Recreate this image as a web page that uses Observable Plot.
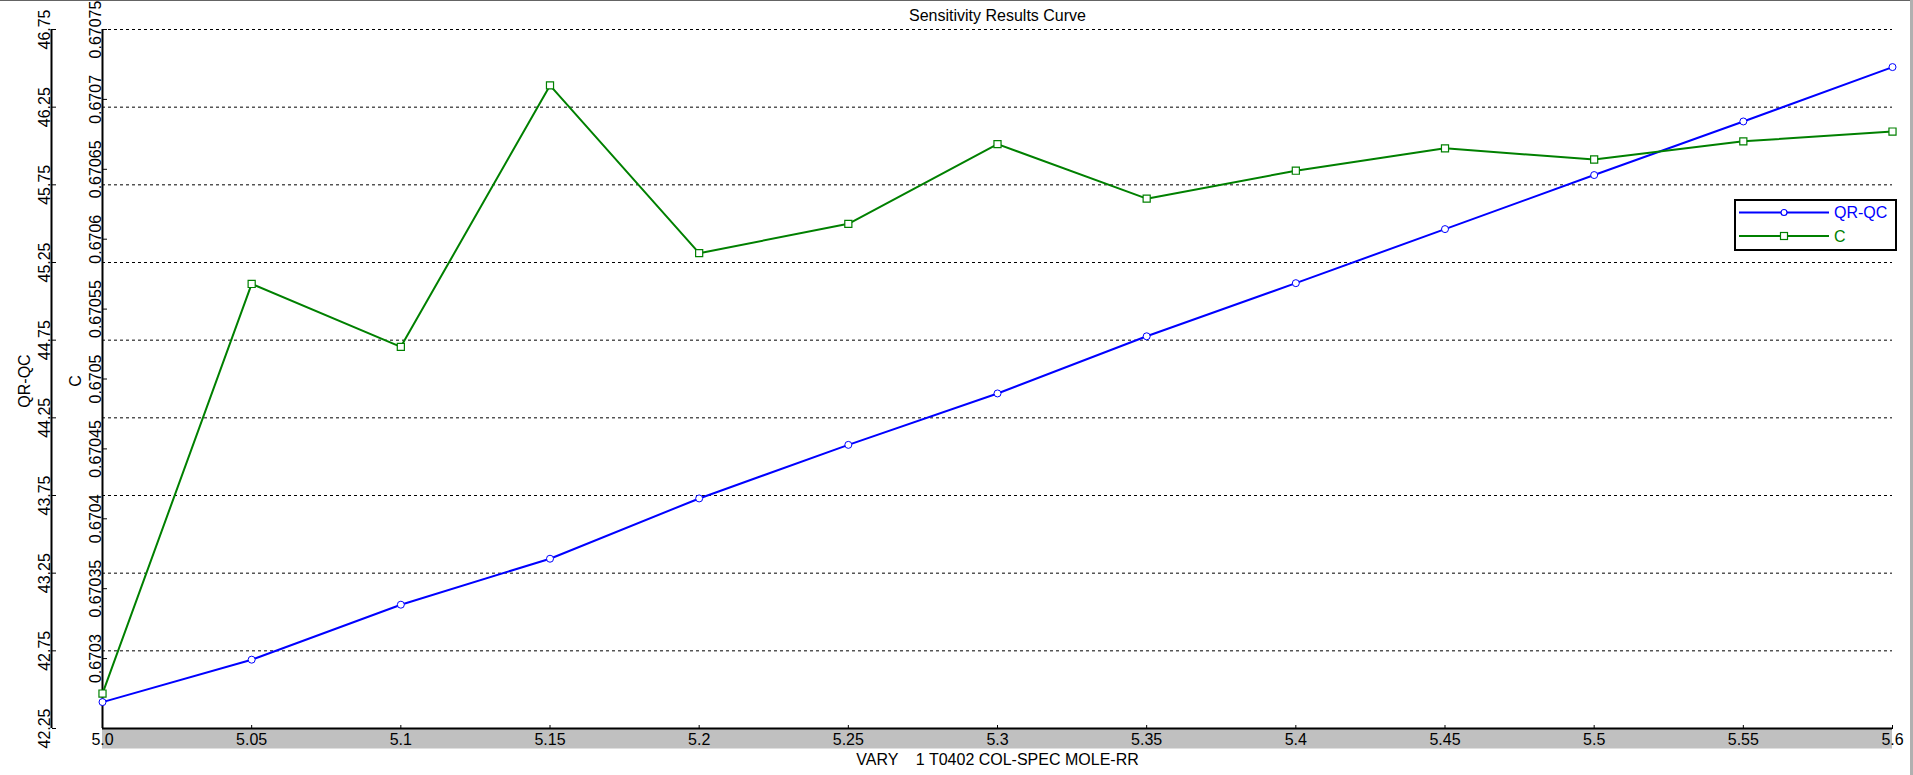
<!DOCTYPE html>
<html>
<head>
<meta charset="utf-8">
<script src="https://cdn.jsdelivr.net/npm/d3@7"></script>
<script src="https://cdn.jsdelivr.net/npm/@observablehq/plot@0.6"></script>
<style>
  html, body { margin: 0; padding: 0; background: white; overflow: hidden; }
  #wrap { position: relative; width: 1913px; height: 775px; }
  #wrap svg text { white-space: pre; }
  .edge { position: absolute; }
  #legend { position: absolute; box-sizing: border-box; left: 1734px; top: 199px; width: 163px; height: 52px;
            border: 2px solid black; background: white; }
</style>
</head>
<body>
<div id="wrap"></div>
<script>
// ---- data ----
const xValues = [5.0, 5.05, 5.1, 5.15, 5.2, 5.25, 5.3, 5.35, 5.4, 5.45, 5.5, 5.55, 5.6];
const qrqcValues = [42.42, 42.693, 43.047, 43.343, 43.731, 44.076, 44.407, 44.775, 45.117, 45.465, 45.813, 46.158, 46.508];
const cValues = [0.670275, 0.670568, 0.670523, 0.670710, 0.670590, 0.670611, 0.670668, 0.670629, 0.670649, 0.670665, 0.670657, 0.670670, 0.670677];
const xTickLabels = ["5.0", "5.05", "5.1", "5.15", "5.2", "5.25", "5.3", "5.35", "5.4", "5.45", "5.5", "5.55", "5.6"];
const qrqcTicks = [42.25, 42.75, 43.25, 43.75, 44.25, 44.75, 45.25, 45.75, 46.25, 46.75];
const qrqcTickLabels = ["42.25", "42.75", "43.25", "43.75", "44.25", "44.75", "45.25", "45.75", "46.25", "46.75"];
const cTicks = [0.6703, 0.67035, 0.6704, 0.67045, 0.6705, 0.67055, 0.6706, 0.67065, 0.6707, 0.67075];
const cTickLabels = ["0.6703", "0.67035", "0.6704", "0.67045", "0.6705", "0.67055", "0.6706", "0.67065", "0.6707", "0.67075"];
const qrqcDomain = [42.25, 46.75];
const cDomain = [0.67025, 0.67075];
const xDomain = [5.0, 5.6];
const seriesNames = ["QR-QC", "C"];
const seriesColors = ["#0000ff", "#008000"];
const titleText = "Sensitivity Results Curve";
const xTitle = "VARY    1 T0402 COL-SPEC MOLE-RR";

// map C values onto the QR-QC axis (dual axis)
const cToY = c => qrqcDomain[0] + (c - cDomain[0]) / (cDomain[1] - cDomain[0]) * (qrqcDomain[1] - qrqcDomain[0]);
const cTickPos = cTicks.map(cToY);
const data = xValues.map((x, i) => ({x, qr: qrqcValues[i], c: cToY(cValues[i])}));
const near = (arr, d) => arr.findIndex(v => Math.abs(v - d) < 1e-7);

const font = "'Liberation Sans', Arial, sans-serif";

const chart = Plot.plot({
  width: 1913, height: 775,
  marginLeft: 102, marginRight: 21, marginTop: 29, marginBottom: 47,
  x: {domain: xDomain},
  y: {domain: qrqcDomain},
  style: {fontFamily: font, fontSize: "16px", color: "black", background: "white"},
  marks: [
    Plot.ruleY([qrqcDomain[0]], {stroke: "#c0c0c0", strokeWidth: 20, dy: 10}),
    Plot.ruleY(qrqcTicks.slice(1), {stroke: "black", strokeWidth: 1, strokeDasharray: "3,3"}),
    Plot.ruleY([qrqcDomain[0]], {stroke: "black", strokeWidth: 2}),
    Plot.ruleX([xDomain[0]], {stroke: "black", strokeWidth: 2}),
    Plot.ruleX([xDomain[0]], {stroke: "black", strokeWidth: 2, dx: -51}),
    Plot.axisX(xValues, {anchor: "top", frameAnchor: "bottom", tickSize: 4, fill: "none", label: null}),
    Plot.axisX(xValues, {anchor: "bottom", tickSize: 0, tickPadding: 5, label: null,
      tickFormat: d => xTickLabels[near(xValues, d)]}),
    Plot.axisY(qrqcTicks, {anchor: "right", frameAnchor: "left", tickSize: 4, dx: -51, fill: "none", label: null}),
    Plot.axisY(qrqcTicks, {anchor: "left", tickSize: 0, tickPadding: 1.5, tickRotate: -90, dx: -51, label: null,
      tickFormat: d => qrqcTickLabels[near(qrqcTicks, d)]}),
    Plot.axisY(cTickPos, {anchor: "right", frameAnchor: "left", tickSize: 4, fill: "none", label: null}),
    Plot.axisY(cTickPos, {anchor: "left", tickSize: 0, tickPadding: 1.5, tickRotate: -90, label: null,
      tickFormat: d => cTickLabels[near(cTickPos, d)]}),
    Plot.text([seriesNames[0]], {text: d => d, frameAnchor: "left", rotate: -90, textAnchor: "middle", lineAnchor: "bottom", dx: -72.5, dy: 2, fill: "black"}),
    Plot.text([seriesNames[1]], {text: d => d, frameAnchor: "left", rotate: -90, textAnchor: "middle", lineAnchor: "bottom", dx: -22, dy: 2, fill: "black"}),
    Plot.text([xTitle], {text: d => d, frameAnchor: "bottom", lineAnchor: "bottom", dy: 36, fill: "black"}),
    Plot.text([titleText], {text: d => d, frameAnchor: "top", lineAnchor: "middle", dy: -14, fill: "black"}),
    Plot.line(data, {x: "x", y: "qr", stroke: seriesColors[0], strokeWidth: 2}),
    Plot.dot(data, {x: "x", y: "qr", r: 3.5, stroke: seriesColors[0], fill: "white", strokeWidth: 1}),
    Plot.line(data, {x: "x", y: "c", stroke: seriesColors[1], strokeWidth: 2}),
    Plot.dot(data, {x: "x", y: "c", symbol: "square", r: 4, stroke: seriesColors[1], fill: "white", strokeWidth: 1.2})
  ]
});

const wrap = document.getElementById("wrap");
wrap.appendChild(chart);

const edgeTop = document.createElement("div");
edgeTop.className = "edge";
Object.assign(edgeTop.style, {left: "0px", top: "0px", width: "1913px", height: "1px", background: "#646464"});
wrap.appendChild(edgeTop);
const edgeRight = document.createElement("div");
edgeRight.className = "edge";
Object.assign(edgeRight.style, {left: "1910px", top: "0px", width: "3px", height: "775px", background: "#b0b0b0"});
wrap.appendChild(edgeRight);

// legend
const legend = document.createElement("div");
legend.id = "legend";
const ns = "http://www.w3.org/2000/svg";
const lsvg = document.createElementNS(ns, "svg");
lsvg.setAttribute("width", "159");
lsvg.setAttribute("height", "48");
lsvg.style.display = "block";
const rowsY = [11.5, 35];
seriesNames.forEach((name, i) => {
  const yy = rowsY[i];
  const line = document.createElementNS(ns, "line");
  line.setAttribute("x1", 3); line.setAttribute("x2", 93);
  line.setAttribute("y1", yy); line.setAttribute("y2", yy);
  line.setAttribute("stroke", seriesColors[i]); line.setAttribute("stroke-width", 2);
  lsvg.appendChild(line);
  let m;
  if (i === 0) {
    m = document.createElementNS(ns, "circle");
    m.setAttribute("cx", 48); m.setAttribute("cy", yy); m.setAttribute("r", 3);
  } else {
    m = document.createElementNS(ns, "rect");
    m.setAttribute("x", 44.5); m.setAttribute("y", yy - 3.5); m.setAttribute("width", 7); m.setAttribute("height", 7);
  }
  m.setAttribute("fill", "white"); m.setAttribute("stroke", seriesColors[i]); m.setAttribute("stroke-width", 1.2);
  lsvg.appendChild(m);
  const t = document.createElementNS(ns, "text");
  t.setAttribute("x", 98); t.setAttribute("y", yy);
  t.setAttribute("dy", "0.36em");
  t.setAttribute("fill", seriesColors[i]);
  t.setAttribute("font-family", font);
  t.setAttribute("font-size", "16px");
  t.textContent = name;
  lsvg.appendChild(t);
});
legend.appendChild(lsvg);
wrap.appendChild(legend);
</script>
</body>
</html>
